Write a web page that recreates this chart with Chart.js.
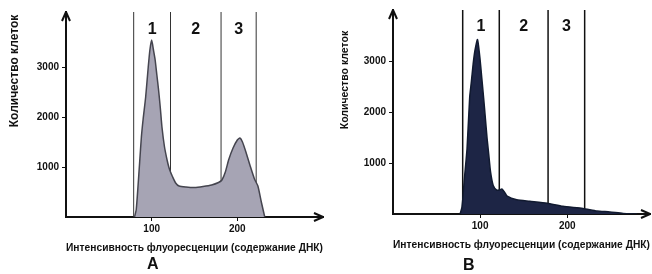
<!DOCTYPE html>
<html>
<head>
<meta charset="utf-8">
<script src="https://cdn.jsdelivr.net/npm/chart.js@4"></script>
<style>
  body { margin:0; background:#fff; width:652px; height:274px; position:relative; overflow:hidden; }
  .box { position:absolute; top:0; height:274px; }
  .letter { position:absolute; font:bold 16px Arial, "Liberation Sans", sans-serif; color:#111; }
</style>
</head>
<body>
<div class="box" style="left:0;width:330px"><canvas id="grafA"></canvas></div>
<div class="box" style="left:330px;width:322px"><canvas id="grafB"></canvas></div>
<div class="letter" style="left:147px;top:255px">А</div>
<div class="letter" style="left:463px;top:256px">В</div>
<script>
// гистограммы: интенсивность флуоресценции -> количество клеток
let xA = [80,82,84,86,88,90,93,96,98,100,102,104,106,108,110,112,115,118,120,122,124,128,132,140,150,160,170,178,182,186,190,195,200,203,206,210,215,220,224,228,232]
let yA = [0,150,600,1100,1600,1950,2400,3000,3350,3540,3350,3150,2850,2550,2200,1800,1400,1140,1000,900,820,680,620,600,590,610,640,690,740,900,1150,1380,1540,1580,1500,1300,1020,760,620,300,0]

let xB = [77,79,80,82,85,88,90,92,94,97,100,102,104,106,108,110,112,115,119,122,125,128,131,142,157,177,195,218,234,249,264,280]
let yB = [0,120,280,700,1280,2280,2600,2940,3200,3420,3020,2650,2280,1880,1480,1150,820,560,470,470,490,430,350,280,250,210,150,110,60,40,10,0]

// границы областей 1, 2, 3
let gatesA = [79,122,181,222]
let gatesB = [80,122,178,220]
let regiones = ['1','2','3']

let yTicks = [1000,2000,3000]
let xTicks = [100,200]

const fonte = 'Arial, "Liberation Sans", sans-serif'

const setas = {
  id:'setas',
  afterDraw(chart){
    const c = chart.ctx, a = chart.chartArea
    const op = chart.options.plugins.setas
    c.save()
    c.fillStyle = '#111'
    c.strokeStyle = '#111'
    c.lineWidth = 2
    // seta vertical
    c.beginPath()
    c.moveTo(a.left, a.top)
    c.lineTo(a.left-4, a.top+9)
    c.moveTo(a.left, a.top)
    c.lineTo(a.left+4, a.top+9)
    c.stroke()
    // seta horizontal
    c.beginPath()
    c.moveTo(a.right, a.bottom)
    c.lineTo(a.right-9, a.bottom-4)
    c.moveTo(a.right, a.bottom)
    c.lineTo(a.right-9, a.bottom+4)
    c.stroke()
    // numeros das regioes
    const g = op.gates
    const sx = chart.scales.x
    c.font = 'bold 16px ' + fonte
    c.textAlign = 'center'
    c.textBaseline = 'middle'
    for (let i = 0; i < regiones.length; i++) {
      const px = sx.getPixelForValue((g[i]+g[i+1])/2)
      c.fillText(regiones[i], px, op.labelY)
    }
    // titulo do eixo y
    c.translate(15, op.ytY)
    c.rotate(-Math.PI/2)
    c.font = 'bold ' + op.ytSize + 'px ' + fonte
    c.fillText('Количество клеток', 0, 0)
    c.restore()
  }
}

function montar(id, xs, ys, gates, cfg){
  const pontos = xs.map((x,i)=>({x:x, y:ys[i]}))
  const linhas = gates.map(g=>({
    data:[{x:g,y:0},{x:g,y:cfg.ymax}],
    borderColor:cfg.gateColor, borderWidth:cfg.gateWidth,
    pointRadius:0, fill:false, tension:0
  }))
  return new Chart(document.getElementById(id), {
    type:'line',
    data:{
      datasets:[{
        data:pontos,
        borderColor:cfg.edge, borderWidth:1.5,
        backgroundColor:cfg.fill,
        fill:'origin', pointRadius:0, tension:0.2
      }, ...linhas]
    },
    options:{
      responsive:false, animation:false,
      layout:{padding:{top:cfg.top, right:cfg.right, left:0, bottom:0}},
      plugins:{legend:{display:false}, tooltip:{enabled:false},
        setas:{gates:gates, labelY:cfg.labelY, ytY:cfg.ytY, ytSize:cfg.ytSize}},
      scales:{
        x:{
          type:'linear', min:0, max:cfg.xmax,
          afterBuildTicks:s=>{ s.ticks = xTicks.map(v=>({value:v})) },
          afterFit:s=>{ s.height = cfg.xh },
          border:{color:'#111', width:2},
          grid:{drawOnChartArea:false, tickLength:4, color:'#111'},
          ticks:{autoSkip:false, maxRotation:0, padding:2, color:'#111', font:{family:fonte, size:10, weight:'bold'},
            callback:v=>String(v)},
          title:{display:true, text:'Интенсивность флуоресценции (содержание ДНК)',
            color:'#111', font:{family:fonte, size:10.5, weight:'bold'}, padding:{top:cfg.tpad, bottom:cfg.tpad}}
        },
        y:{
          min:0, max:cfg.ymax,
          afterBuildTicks:s=>{ s.ticks = yTicks.map(v=>({value:v})) },
          afterFit:s=>{ s.width = cfg.yw },
          border:{color:'#111', width:2},
          grid:{drawOnChartArea:false, tickLength:4, color:'#111'},
          ticks:{autoSkip:false, padding:3, color:'#111', font:{family:fonte, size:10, weight:'bold'},
            callback:v=>String(v)}
        }
      }
    },
    plugins:[setas]
  })
}

document.getElementById('grafA').width = 330
document.getElementById('grafA').height = 274
document.getElementById('grafB').width = 322
document.getElementById('grafB').height = 274

montar('grafA', xA, yA, gatesA, {
  ymax:4100, xmax:300, top:12, right:7, xh:57, yw:66, tpad:20, labelY:30, ytY:71, ytSize:12,
  fill:'#a6a4b4', edge:'#45454f', gateColor:'#333', gateWidth:1
})
montar('grafB', xB, yB, gatesB, {
  ymax:4000, xmax:295, top:10, right:2, xh:60, yw:63, tpad:23, labelY:27, ytY:80, ytSize:10.5,
  fill:'#1d2545', edge:'#111a30', gateColor:'#111', gateWidth:1.5
})
</script>
</body>
</html>
